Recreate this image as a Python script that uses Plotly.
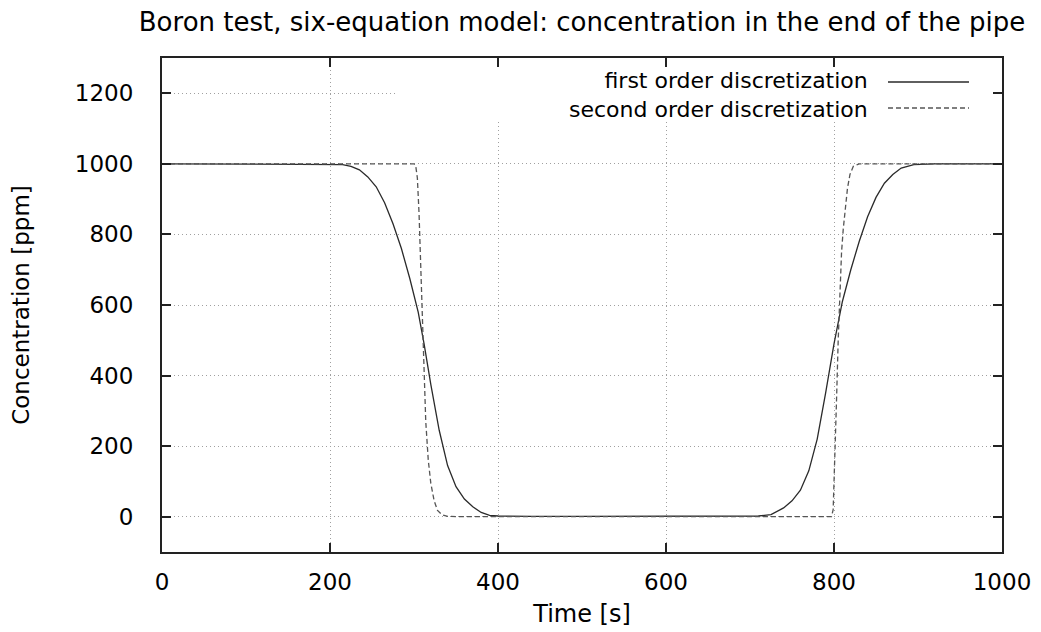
import plotly.graph_objects as go

# ---- data ----
t_first = [0, 190, 205, 215, 225, 235, 245, 255, 265, 275, 285, 295, 305, 312, 320, 330, 340, 350,
           360, 370, 380, 390, 400, 415, 440, 500, 600, 690, 710, 725, 740, 750, 760, 770, 780,
           790, 800, 810, 820, 830, 840, 850, 860, 870, 880, 895, 920, 1000]
c_first = [1000, 1000, 999, 998, 993, 983, 963, 935, 890, 830, 760, 675, 580, 490, 375, 245, 145, 85,
           50, 28, 12, 4, 2, 1, 1, 1, 1, 1, 2, 6, 25, 45, 75, 130, 220,
           350, 490, 610, 700, 780, 850, 905, 945, 970, 988, 998, 1000, 1000]

t_second = [0, 300, 302, 304, 306, 308, 310, 312, 314, 317, 320, 324, 328, 333, 340, 360, 600, 790,
            797, 799, 801, 803, 805, 807, 809, 811, 813, 816, 819, 823, 830, 1000]
c_second = [1000, 1000, 995, 960, 860, 700, 530, 380, 270, 160, 95, 45, 18, 6, 1, 0, 0, 0,
            0, 20, 150, 330, 500, 650, 750, 815, 870, 930, 970, 993, 1000, 1000]

series_names = ["first order discretization", "second order discretization"]
x_ticks = [0, 200, 400, 600, 800, 1000]
y_ticks = [0, 200, 400, 600, 800, 1000, 1200]
x_range = [0, 1000]
y_range = [-100, 1300]

FONT = "DejaVu Sans"
OFF = 8                      # default page body margin
W, H = 1041 - OFF, 632 - OFF
# plot area in screen pixels: x 162..1002, y 58..552
L = 162 - OFF
T = 58 - OFF
R = W - (1002 - OFF)
B = H - (552 - OFF)

fig = go.Figure()
fig.add_trace(go.Scatter(x=t_first, y=c_first, mode="lines", name=series_names[0],
                         line=dict(color="#2a2a2a", width=1.3), showlegend=False))
fig.add_trace(go.Scatter(x=t_second, y=c_second, mode="lines", name=series_names[1],
                         line=dict(color="#555555", width=1.3, dash="5px,3px"), showlegend=False))

pw = W - L - R
ph = H - T - B
def px_x(p):
    return (p - OFF - L) / pw
def px_y(p):
    return (H - B - (p - OFF)) / ph
def paper_to_x(f):
    return x_range[0] + f * (x_range[1] - x_range[0])
def paper_to_y(f):
    return y_range[0] + f * (y_range[1] - y_range[0])

# legend box (white, hides grid but stays under axis ticks)
fig.add_shape(type="rect", xref="x", yref="y",
              x0=paper_to_x(px_x(395)), x1=x_range[1],
              y0=paper_to_y(px_y(120)), y1=y_range[1],
              fillcolor="white", line=dict(width=0), layer="between")
# legend samples
fig.add_shape(type="line", xref="paper", yref="paper", x0=px_x(888), x1=px_x(969),
              y0=px_y(82), y1=px_y(82), line=dict(color="#2a2a2a", width=1.3))
fig.add_shape(type="line", xref="paper", yref="paper", x0=px_x(888), x1=px_x(969),
              y0=px_y(108), y1=px_y(108), line=dict(color="#555555", width=1.3, dash="5px,3px"))
fig.add_annotation(text="<br>".join(series_names), xref="paper", yref="paper",
                   x=px_x(869), y=px_y(95), xanchor="right", yanchor="middle", align="right",
                   showarrow=False, borderpad=0,
                   font=dict(family=FONT, size=22, color="black"))

axis_common = dict(showline=True, linecolor="#222222", linewidth=2, mirror="allticks",
                   ticks="inside", ticklen=9, tickwidth=1.5, tickcolor="#222222",
                   showgrid=True, gridcolor="#a0a0a0", griddash="1px,3px", gridwidth=1,
                   zeroline=False, automargin=False,
                   tickfont=dict(family=FONT, size=23, color="black"))

fig.update_xaxes(range=x_range, tickvals=x_ticks, ticktext=[str(v) for v in x_ticks],
                 title=dict(text="Time [s]", font=dict(family=FONT, size=24, color="black"), standoff=12),
                 ticklabelstandoff=8, **axis_common)
fig.update_yaxes(range=y_range, tickvals=y_ticks, ticktext=[str(v) for v in y_ticks],
                 title=dict(text="Concentration [ppm]", font=dict(family=FONT, size=23, color="black"), standoff=39),
                 ticklabelstandoff=22, **axis_common)

fig.update_layout(
    width=W, height=H,
    margin=dict(l=L, r=R, t=T, b=B, autoexpand=False),
    paper_bgcolor="white", plot_bgcolor="white",
    title=dict(text="Boron test, six-equation model: concentration in the end of the pipe",
               font=dict(family=FONT, size=26, color="black"),
               x=0.5, xref="paper", y=1 - (22 - OFF) / H, yref="container", yanchor="middle"),
    showlegend=False,
)

fig.write_html("out.html")
